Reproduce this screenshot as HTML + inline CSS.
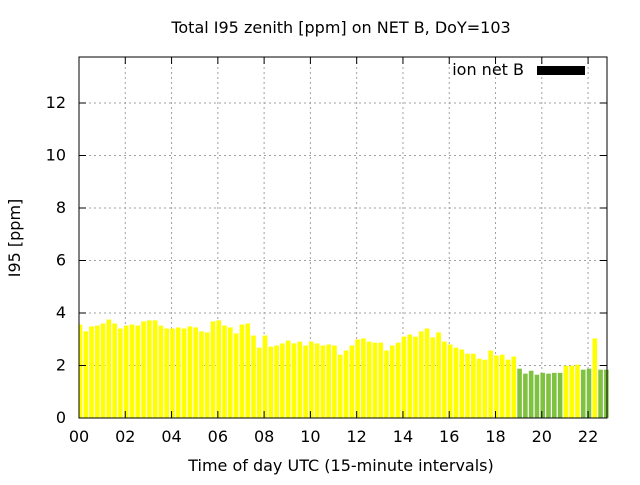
<!DOCTYPE html>
<html><head><meta charset="utf-8"><style>
body{margin:0;background:#fff}
svg text{font-family:"DejaVu Sans","Liberation Sans",sans-serif;font-size:16px;fill:#000}
</style></head><body>
<svg id="chart" width="640" height="480">
<text x="341" y="33" text-anchor="middle">Total I95 zenith [ppm] on NET B, DoY=103</text>
<text x="341" y="471" text-anchor="middle">Time of day UTC (15-minute intervals)</text>
<text transform="translate(20,238) rotate(-90)" text-anchor="middle">I95 [ppm]</text>
<g id="grid"></g><g id="bars"></g><g id="axes"></g>
<text x="524" y="75" text-anchor="end">ion net B</text>
<rect x="537" y="66" width="48" height="9" fill="#000"/>
</svg>
<script>
const values=[3.56,3.30,3.49,3.52,3.60,3.75,3.60,3.41,3.52,3.56,3.52,3.68,3.72,3.72,3.52,3.41,3.41,3.45,3.41,3.49,3.45,3.30,3.26,3.68,3.72,3.52,3.45,3.22,3.56,3.60,3.14,
2.68,3.14,2.72,2.76,2.84,2.95,2.84,2.91,2.76,2.91,2.84,2.76,2.80,2.76,2.41,2.57,2.76,2.99,3.03,2.91,2.87,2.87,2.57,2.76,2.87,3.10,3.18,3.10,3.30,3.41,
3.07,3.26,2.91,2.80,2.68,2.61,2.45,2.45,2.26,2.22,2.57,2.38,2.41,2.22,2.34,1.88,1.69,1.80,1.65,1.72,1.69,1.72,1.72,1.99,1.99,2.03,1.84,1.88,3.03,1.84,1.84];
const greenFlags=[];for(let i=0;i<values.length;i++)greenFlags.push(0);
[76,77,78,79,80,81,82,83,87,88,90,91].forEach(i=>greenFlags[i]=1);
const xTicks=["00","02","04","06","08","10","12","14","16","18","20","22"];
const yTicks=[0,2,4,6,8,10,12];
const L=79,R=607,T=57,B=418;
const xs=h=>L+h*23.14, ys=v=>B-v*26.25;
const NS="http://www.w3.org/2000/svg";
function mk(t,a,p){const e=document.createElementNS(NS,t);for(const k in a)e.setAttribute(k,a[k]);p.appendChild(e);return e;}
const grid=document.getElementById('grid'),bars=document.getElementById('bars'),axes=document.getElementById('axes');
yTicks.forEach(v=>{const y=ys(v);
 if(v>0){const g=mk('line',{x1:L,x2:R,y1:y,y2:y,stroke:'#a0a0a0','stroke-dasharray':'2,3'},grid);
 
 }
 mk('line',{x1:L,x2:L+7,y1:y,y2:y,stroke:'#000'},axes);mk('line',{x1:R-7,x2:R,y1:y,y2:y,stroke:'#000'},axes);
 const t=mk('text',{x:66,y:y+5,'text-anchor':'end'},axes);t.textContent=v;
 
 });
xTicks.forEach((s,i)=>{const x=xs(i*2);
 if(i>0){const g=mk('line',{x1:x,x2:x,y1:T,y2:B,stroke:'#a0a0a0','stroke-dasharray':'2,3'},grid);
 
 }
 mk('line',{x1:x,x2:x,y1:B,y2:B-7,stroke:'#000'},axes);mk('line',{x1:x,x2:x,y1:T,y2:T+7,stroke:'#000'},axes);
 const t=mk('text',{x:x,y:442,'text-anchor':'middle'},axes);t.textContent=s;
 
 });
values.forEach((v,i)=>{const cx=xs(i*0.25+0.04);let x0=cx-2.3,x1=cx+2.3;x0=Math.max(x0,L);
 const r=mk('rect',{x:x0,y:ys(v),width:x1-x0,height:B-ys(v),fill:greenFlags[i]?'#7fc241':'#ffff00'},bars);
 
 });
const f=mk('rect',{x:L,y:T,width:R-L,height:B-T,fill:'none',stroke:'#000'},axes);


</script>
</body></html>
